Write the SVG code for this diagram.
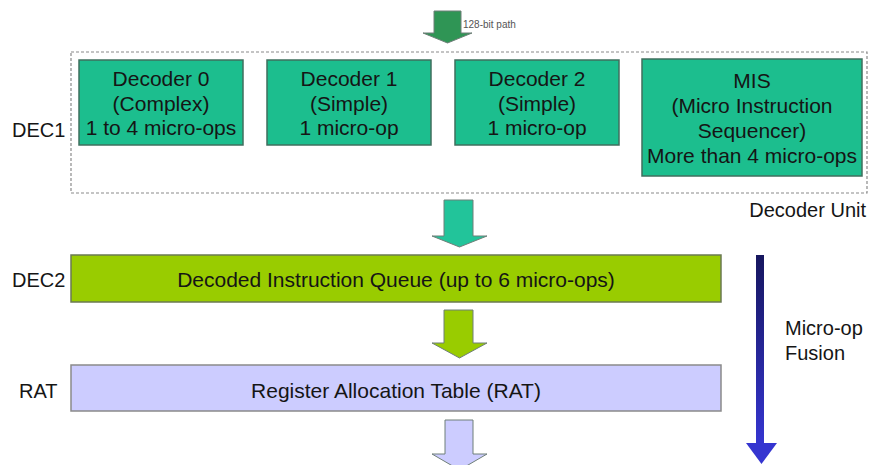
<svg xmlns="http://www.w3.org/2000/svg" width="870" height="465" viewBox="0 0 870 465">
<defs>
<linearGradient id="blueShaft" x1="0" y1="0" x2="0" y2="1">
<stop offset="0" stop-color="#16165e"/>
<stop offset="1" stop-color="#3535d0"/>
</linearGradient>
<style>
text{font-family:"Liberation Sans",Arial,sans-serif;fill:#151515;}
.lbl{font-size:20px;}
.box{font-size:21px;text-anchor:middle;}
.wide{font-size:21px;text-anchor:middle;}
.dec{fill:#1cbe8e;stroke:#3f6f5e;stroke-width:1.5;}
.arr{stroke:#6f7f78;stroke-width:1;}
</style>
</defs>
<rect width="870" height="465" fill="#ffffff"/>

<g id="decoder-unit">
<rect x="71" y="52" width="796" height="141" fill="none" stroke="#8a8a8a" stroke-width="1.2" stroke-dasharray="3,2"/>
<text class="lbl" x="866" y="217" text-anchor="end">Decoder Unit</text>
<text class="lbl" x="12" y="137">DEC1</text>
</g>

<g id="decoder0">
<rect class="dec" x="79" y="60" width="164" height="85"/>
<text class="box" x="161" y="86">Decoder 0</text>
<text class="box" x="161" y="111">(Complex)</text>
<text class="box" x="161" y="135">1 to 4 micro-ops</text>
</g>
<g id="decoder1">
<rect class="dec" x="267" y="60" width="164" height="85"/>
<text class="box" x="349" y="86">Decoder 1</text>
<text class="box" x="349" y="111">(Simple)</text>
<text class="box" x="349" y="135">1 micro-op</text>
</g>
<g id="decoder2">
<rect class="dec" x="455" y="60" width="164" height="85"/>
<text class="box" x="537" y="86">Decoder 2</text>
<text class="box" x="537" y="111">(Simple)</text>
<text class="box" x="537" y="135">1 micro-op</text>
</g>
<g id="mis">
<rect class="dec" x="642" y="59" width="220" height="117"/>
<text class="box" x="752" y="88">MIS</text>
<text class="box" x="752" y="113">(Micro Instruction</text>
<text class="box" x="752" y="138">Sequencer)</text>
<text class="box" x="752" y="163">More than 4 micro-ops</text>
</g>

<g id="dec2">
<text class="lbl" x="12" y="287" font-size="21">DEC2</text>
<rect x="71" y="255" width="650" height="47" fill="#99cc00" stroke="#6b7a52" stroke-width="1.5"/>
<text class="wide" x="396" y="287">Decoded Instruction Queue (up to 6 micro-ops)</text>
</g>

<g id="rat">
<text class="lbl" x="19" y="398">RAT</text>
<rect x="71" y="365" width="650" height="46" fill="#ccccff" stroke="#8a8a8a" stroke-width="1.5"/>
<text class="wide" x="396" y="398">Register Allocation Table (RAT)</text>
</g>

<g id="fusion">
<text class="lbl" x="785" y="335">Micro-op</text>
<text class="lbl" x="785" y="360">Fusion</text>
</g>

<g id="connectors">
<polygon class="arr" fill="#2f9555" points="434,11 461,11 461,33 472,33 447.5,43 423,33 434,33"/>
<text x="463" y="28" font-size="10" style="fill:#555">128-bit path</text>
<polygon class="arr" fill="#22c49a" points="444,200 473,200 473,236 487,236 459.5,247 432,236 444,236"/>
<polygon class="arr" fill="#99cc00" points="444,310 473,310 473,343 487,343 459.5,358 432,343 444,343"/>
<polygon class="arr" fill="#ccccff" points="445,420 473,420 473,454 487,454 459.5,470 432,454 445,454"/>
<rect x="756" y="255" width="8" height="189" fill="url(#blueShaft)"/>
<polygon fill="#3535d0" points="746,443 777,443 761.5,464"/>
</g>
</svg>
